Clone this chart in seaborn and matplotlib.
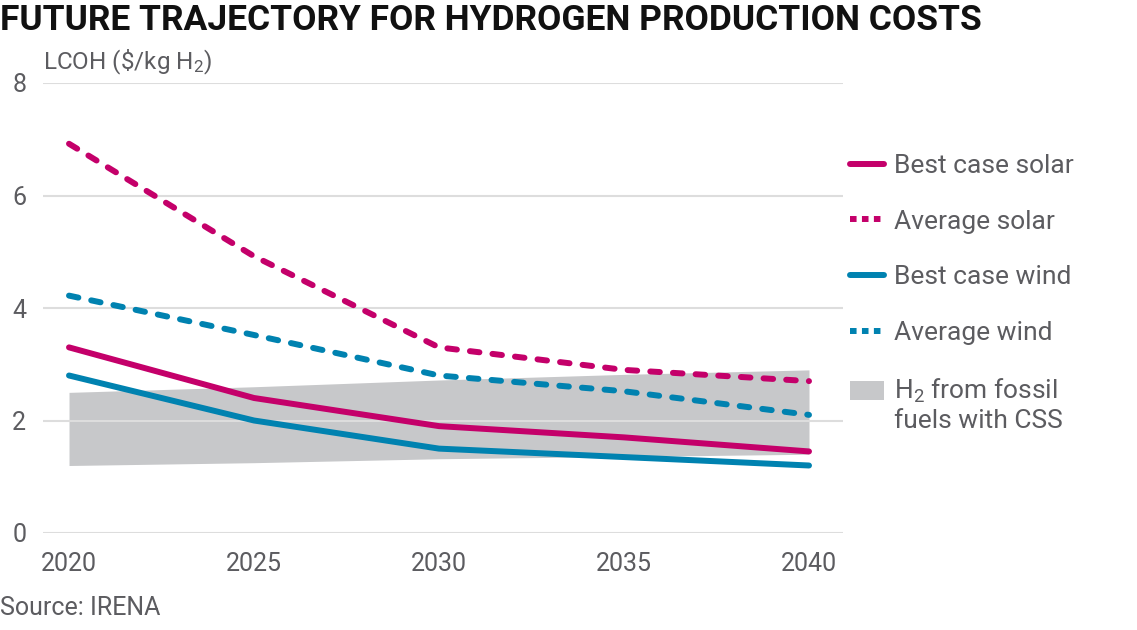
import matplotlib
matplotlib.use('agg')
import seaborn as sns
import matplotlib.pyplot as plt
from matplotlib.lines import Line2D
from matplotlib.patches import Patch, Rectangle
from matplotlib.legend_handler import HandlerPatch
import pandas as pd

years = [2020, 2025, 2030, 2035, 2040]
best_solar = [3.3, 2.4, 1.9, 1.7, 1.45]
avg_solar = [6.92, 4.92, 3.3, 2.9, 2.7]
best_wind = [2.8, 2.0, 1.5, 1.35, 1.2]
avg_wind = [4.22, 3.52, 2.8, 2.52, 2.1]
fossil_low = [1.2, 1.25, 1.32, 1.36, 1.4]
fossil_high = [2.5, 2.6, 2.72, 2.82, 2.9]
y_ticks = [0, 2, 4, 6, 8]

magenta = '#C4006A'
blue = '#0082B0'
band_gray = '#C7C8CA'
text_gray = '#5C5C60'

sns.set_theme(style='white')
plt.rcParams['font.family'] = ['Roboto', 'DejaVu Sans']
plt.rcParams['mathtext.default'] = 'regular'
plt.rcParams['axes.axisbelow'] = 'line'

df = pd.DataFrame({'year': years, 'best_solar': best_solar, 'avg_solar': avg_solar,
                   'best_wind': best_wind, 'avg_wind': avg_wind})

fig = plt.figure(figsize=(11.37, 6.3), dpi=100)
ax = fig.add_axes([43 / 1137, 1 - 533 / 630, 800 / 1137, 450 / 630])

ax.fill_between(years, fossil_low, fossil_high, color=band_gray, lw=0)

lw = 4.3
dash = (0, (1.6, 2.2))
sns.lineplot(data=df, x='year', y='avg_solar', color=magenta, lw=lw, ax=ax,
             linestyle=dash, dash_capstyle='round', solid_joinstyle='round')
sns.lineplot(data=df, x='year', y='avg_wind', color=blue, lw=lw, ax=ax,
             linestyle=dash, dash_capstyle='round')
sns.lineplot(data=df, x='year', y='best_solar', color=magenta, lw=lw, ax=ax,
             solid_capstyle='round', solid_joinstyle='round')
sns.lineplot(data=df, x='year', y='best_wind', color=blue, lw=lw, ax=ax,
             solid_capstyle='round', solid_joinstyle='round')

ax.set_xlim(2019.297, 2040.919)
ax.set_ylim(0, 8)
ax.set_xticks(years)
ax.set_yticks(y_ticks)
ax.set_xlabel('')
ax.set_ylabel('')
ax.grid(axis='y', color='#DDDDDD', lw=1.5)
ax.grid(axis='x', visible=False)
for s in ax.spines.values():
    s.set_visible(False)
ax.tick_params(axis='both', length=0, labelsize=18, labelcolor=text_gray)
ax.tick_params(axis='y', pad=12)
ax.tick_params(axis='x', pad=14)

fig.text(0.0, 1 - 4 / 630, 'FUTURE TRAJECTORY FOR HYDROGEN PRODUCTION COSTS',
         ha='left', va='top', fontsize=25.5, fontweight='bold', color='#111111')
fig.text(43 / 1137, 1 - 48 / 630, 'LCOH (\\$/kg H$_2$)', ha='left', va='top',
         fontsize=17.5, color=text_gray)
fig.text(0.0, 1 - 596 / 630, 'Source: IRENA', ha='left', va='top',
         fontsize=18, color=text_gray)


def top_line_patch(legend, orig_handle, xdescent, ydescent, width, height, fontsize):
    # put the swatch next to the first line of a two-line label
    return Rectangle((-xdescent, -ydescent + 0.55 * fontsize), width, height)


handles = [
    Line2D([], [], color=magenta, lw=4.3),
    Line2D([], [], color=magenta, lw=4.3, linestyle=(0, (1.1, 0.9))),
    Line2D([], [], color=blue, lw=4.3),
    Line2D([], [], color=blue, lw=4.3, linestyle=(0, (1.1, 0.9))),
    Patch(facecolor=band_gray, edgecolor='none'),
]
labels = ['Best case solar', 'Average solar', 'Best case wind', 'Average wind',
          'H$_2$ from fossil\nfuels with CSS']
leg = fig.legend(handles, labels, loc='upper left',
                 bbox_to_anchor=(850 / 1137, 1 - 154 / 630),
                 frameon=False, fontsize=19, handlelength=1.3, handletextpad=0.35,
                 labelspacing=1.2, borderpad=0, borderaxespad=0,
                 handler_map={Patch: HandlerPatch(patch_func=top_line_patch)})
for t in leg.get_texts():
    t.set_color(text_gray)

fig.savefig('out.png', dpi=100)
